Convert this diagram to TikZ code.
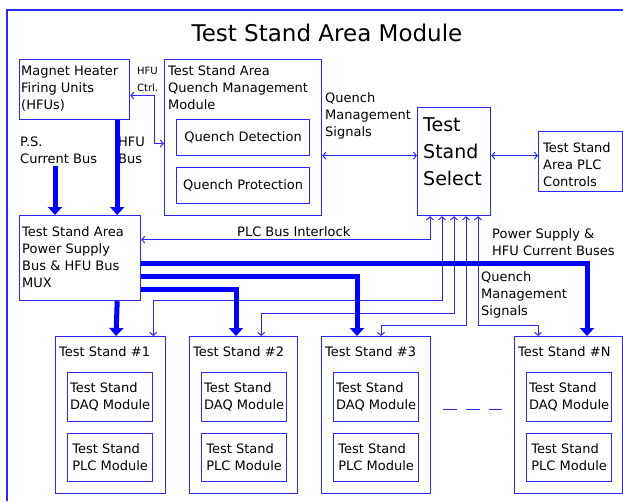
\documentclass[tikz,border=0pt]{standalone}
\usepackage{fontspec}
\setmainfont{DejaVu Sans}
\usetikzlibrary{arrows.meta,positioning,calc}
\definecolor{cadblue}{RGB}{40,40,255}

\begin{document}
\begin{tikzpicture}[x=1pt,y=-1pt,
  box/.style={draw=cadblue,line width=1.2pt,anchor=north west,inner sep=0pt,
    font=\fontsize{13}{17}\selectfont,align=left},
  txt/.style={font=\fontsize{13}{17}\selectfont,align=left,anchor=north west,inner sep=0pt},
  sig/.style={draw=cadblue,line width=1pt,>={Straight Barb[length=3pt,width=7pt]},<->},
  bus/.style={draw=blue,line width=5pt,-{Triangle[length=8pt,width=14pt]}}]
\useasboundingbox (0,0) rectangle (623,501);
% Outer module frame and title
\draw[cadblue,line width=1.2pt] (623,10) -- (7,10) -- (7,501);
\node[font=\fontsize{23}{27}\selectfont,anchor=base,inner sep=0pt] (title) at (327,41) {Test Stand Area Module};
% Upper row of blocks
\node[box,minimum width=110,minimum height=60] (hfu) at (19,59) {};
\node[txt] (hfulab) at (21,65.5) {Magnet Heater\\Firing Units\\(HFUs)};
\node[box,minimum width=157,minimum height=156] (qm) at (164,59) {};
\node[txt] (qmlab) at (168,65.5) {Test Stand Area\\Quench Management\\Module};
\node[box,minimum width=133,minimum height=36] (qdet) at (176,119) {Quench Detection};
\node[box,minimum width=133,minimum height=36] (qprot) at (176,167) {Quench Protection};
\node[box,minimum width=73,minimum height=108] (tss) at (417,107) {};
\node[txt,font=\fontsize{19}{27}\selectfont] (tsslab) at (423,117) {Test\\Stand\\Select};
\node[box,minimum width=84,minimum height=60] (plc) at (538,131) {};
\node[txt] (plclab) at (543,142.5) {Test Stand\\Area PLC\\Controls};
\node[box,minimum width=121,minimum height=85] (mux) at (19,215) {};
\node[txt] (muxlab) at (22,226.5) {Test Stand Area\\Power Supply\\Bus \& HFU Bus\\MUX};
% Connector labels
\node[txt,font=\fontsize{10}{17}\selectfont] (ctrllab) at (137,67.5) {HFU\\Ctrl.};
\node[txt] (pslab) at (20,136.5) {P.S.\\Current Bus};
\node[txt] (hfubuslab) at (118,136.5) {HFU\\Bus};
\node[txt] (qmsig) at (325,92.5) {Quench\\Management\\Signals};
\node[txt,anchor=base west] (ilocklab) at (237,236) {PLC Bus Interlock};
\node[txt] (buslab) at (492,228.5) {Power Supply \&\\HFU Current Buses};
\node[txt] (tssig) at (481,271.5) {Quench\\Management\\Signals};
% Test stands
\foreach \nm/\xx/\ww/\lab in {ts1/55/110/1,ts2/189/108/2,ts3/321/109/3,tsn/514/108/N}{
  \node[box,minimum width=\ww,minimum height=157] (\nm) at (\xx,336) {};
  \node[txt,anchor=base west] (\nm-title) at ([xshift=4,yshift=-20]\nm.north west) {Test Stand \#\lab};
  \node[box,minimum width=85,minimum height=49] (\nm-daq) at ([xshift=12,yshift=-36]\nm.north west) {Test Stand\\DAQ Module};
  \node[box,minimum width=85,minimum height=48] (\nm-plc) at ([xshift=12,yshift=-97]\nm.north west) {Test Stand\\PLC Module};
}
\draw[cadblue,line width=1.2pt,dash pattern=on 14pt off 9pt] ([xshift=12,yshift=5.5]ts3.east) -- ([xshift=-12,yshift=5.5]tsn.west);
% Control and signal lines
\coordinate (selin) at ([yshift=6]tss.west);
\coordinate (selout) at ([yshift=6]tss.east);
\draw[sig] ([yshift=-6]hfu.east) -- ++(24,0) |- ([yshift=-6]qm.west);
\draw[sig] (selin -| qm.east) -- (selin);
\draw[sig] (selout) -- (selout -| plc.west);
\draw[sig] ([xshift=13]tss.south west) |- ([yshift=18.5]mux.east);
\draw[sig] ([xshift=25]tss.south west) -- ++(0,84) -| ([xshift=-13]ts1.north east);
\draw[sig] ([xshift=37]tss.south west) -- ++(0,97) -| ([xshift=-37]ts2.north east);
\draw[sig] ([xshift=49]tss.south west) -- ++(0,109) -| ([xshift=60]ts3.north west);
\draw[sig] ([xshift=61]tss.south west) -- ++(0,109) -| ([xshift=24]tsn.north west);
% Current buses
\coordinate (psbus) at (55,166);
\draw[bus] (psbus) -- (psbus |- mux.north);
\draw[bus] ([xshift=-13]hfu.south east) -- ([xshift=-24]mux.north east);
\draw[bus] ([xshift=-24]mux.south east) -- ([xshift=61]ts1.north west);
\draw[bus] ([yshift=-5.5]mux.east) -| ([xshift=73]tsn.north west);
\draw[bus] ([yshift=-18.5]mux.east) -| ([xshift=36]ts3.north west);
\draw[bus] ([yshift=-31]mux.east) -| ([xshift=47]ts2.north west);
\end{tikzpicture}
\end{document}
